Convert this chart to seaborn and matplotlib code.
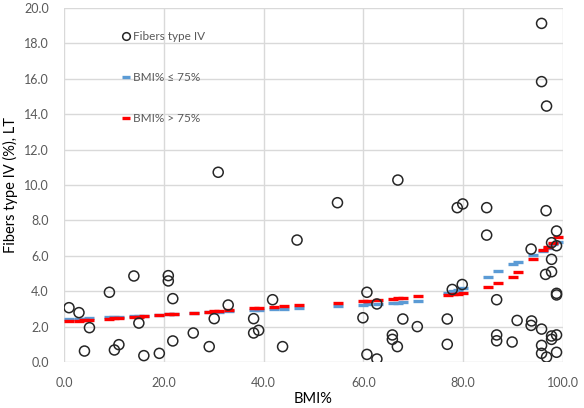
import matplotlib
matplotlib.use("Agg")
import matplotlib.pyplot as plt
from matplotlib.lines import Line2D
from matplotlib.ticker import FormatStrFormatter
import seaborn as sns
import pandas as pd

# Observed data: BMI% vs Fibers type IV (%)
bmi = [1.0, 3.0, 4.1, 5.1, 9.1, 10.1, 11.0, 14.0, 15.0, 16.0, 19.1, 20.9, 20.9, 21.8, 21.8,
       25.9, 29.1, 30.1, 30.9, 32.9, 38.0, 38.0, 39.0, 41.8, 43.8, 46.7, 54.8, 59.9, 60.7,
       60.7, 62.7, 62.7, 65.8, 65.8, 66.8, 66.9, 67.9, 70.8, 76.8, 76.8, 77.8, 78.8, 79.9,
       79.8, 84.7, 84.7, 86.7, 86.7, 86.7, 89.8, 90.8, 93.7, 93.6, 93.6, 95.7, 95.7, 95.7,
       95.7, 95.7, 96.7, 96.7, 96.6, 96.5, 97.7, 97.7, 97.7, 97.7, 97.7, 98.7, 98.7, 98.7,
       98.7, 98.7, 98.7]
fibers = [3.07, 2.79, 0.62, 1.94, 3.94, 0.68, 0.98, 4.86, 2.20, 0.36, 0.49, 4.88, 4.58, 3.58, 1.19,
          1.64, 0.87, 2.45, 10.72, 3.22, 2.45, 1.64, 1.79, 3.52, 0.87, 6.89, 9.00, 2.50, 3.94,
          0.43, 3.28, 0.17, 1.53, 1.28, 0.87, 10.28, 2.43, 2.00, 2.43, 1.00, 4.10, 8.72, 8.93,
          4.38, 8.72, 7.17, 3.52, 1.53, 1.20, 1.13, 2.35, 2.32, 2.07, 6.38, 19.13, 15.84, 1.86,
          0.94, 0.49, 14.46, 0.28, 8.55, 4.95, 5.10, 5.80, 6.74, 1.47, 1.28, 7.40, 6.57, 3.88,
          3.79, 1.53, 0.55]

# Fitted values (dash markers)
fit_x = [1, 3, 4, 5, 9, 10, 11, 14, 15, 16, 19, 21, 22, 26, 29, 30, 31, 33, 38, 39, 42, 44, 47,
         55, 60, 61, 63, 66, 67, 68, 71, 77, 78, 79, 80, 85, 87, 90, 91, 94, 96, 97, 98, 99]
fit_low = [2.41, 2.43, 2.45, 2.47, 2.52, 2.54, 2.55, 2.59, 2.61, 2.62, 2.66, 2.69, 2.70, 2.76,
           2.80, 2.82, 2.83, 2.86, 2.93, 2.94, 2.98, 3.01, 3.05, 3.16, 3.24, 3.26, 3.29, 3.34,
           3.36, 3.38, 3.45, 3.90, 4.02, 4.08, 4.16, 4.82, 5.12, 5.55, 5.67, 6.05, 6.30, 6.45,
           6.65, 6.80]
fit_high = [2.30, 2.33, 2.35, 2.38, 2.45, 2.47, 2.50, 2.55, 2.57, 2.59, 2.65, 2.69, 2.71, 2.79,
            2.85, 2.87, 2.89, 2.93, 3.03, 3.05, 3.11, 3.15, 3.21, 3.35, 3.44, 3.46, 3.50, 3.56,
            3.60, 3.64, 3.72, 3.80, 3.82, 3.85, 3.88, 4.22, 4.46, 4.82, 5.10, 5.82, 6.33, 6.51,
            6.70, 7.05]

labels = ["Fibers type IV", "BMI% \u2264 75%", "BMI% > 75%"]
x_ticks = [0, 20, 40, 60, 80, 100]
y_ticks = [0, 2, 4, 6, 8, 10, 12, 14, 16, 18, 20]

blue = "#5B9BD5"
red = "#FF0000"
gray_text = "#595959"

sns.set_theme(style="white")
plt.rcParams["font.family"] = ["Lato", "DejaVu Sans"]

df = pd.DataFrame({"bmi": bmi, "fibers": fibers})
fit = pd.DataFrame({"x": fit_x, "low": fit_low, "high": fit_high})

fig = plt.figure(figsize=(5.84, 4.08), dpi=100)
ax = fig.add_axes([0.1096, 0.1127, 0.8545, 0.8677])

sns.scatterplot(data=fit, x="x", y="low", marker="_", color=blue, s=60, linewidth=2.4, ax=ax, zorder=3)
sns.scatterplot(data=fit, x="x", y="high", marker="_", color=red, s=60, linewidth=2.4, ax=ax, zorder=4)
sns.scatterplot(data=df, x="bmi", y="fibers", marker="o", facecolors="none", edgecolor="#262626",
                linewidth=1.1, s=52, ax=ax, zorder=5)

ax.set_xlim(0, 100)
ax.set_ylim(0, 20)
ax.set_xticks(x_ticks)
ax.set_yticks(y_ticks)
ax.xaxis.set_major_formatter(FormatStrFormatter("%.1f"))
ax.yaxis.set_major_formatter(FormatStrFormatter("%.1f"))
ax.grid(True, color="#D9D9D9", linewidth=1.0)
ax.set_axisbelow(True)
for s in ax.spines.values():
    s.set_visible(False)
ax.tick_params(axis="both", length=0, labelsize=9, labelcolor=gray_text)
ax.tick_params(axis="x", pad=11)
ax.tick_params(axis="y", pad=11)
ax.set_xlabel("BMI%", fontsize=10.5, color="black", labelpad=2)
ax.set_ylabel("Fibers type IV (%), LT", fontsize=10.5, color="black", labelpad=4)

handles = [
    Line2D([], [], linestyle="", marker="o", markerfacecolor="none", markeredgecolor="#262626",
           markersize=5.5, markeredgewidth=1.1),
    Line2D([], [], linestyle="", marker="_", color=blue, markersize=6, markeredgewidth=2.4),
    Line2D([], [], linestyle="", marker="_", color=red, markersize=6, markeredgewidth=2.4),
]
leg = ax.legend(handles, labels, loc="upper left", bbox_to_anchor=(0.095, 0.965), frameon=False,
                labelspacing=2.55, handlelength=0.6, handletextpad=0.3, fontsize=8.5)
for t in leg.get_texts():
    t.set_color(gray_text)

fig.savefig("out.png", dpi=100)
